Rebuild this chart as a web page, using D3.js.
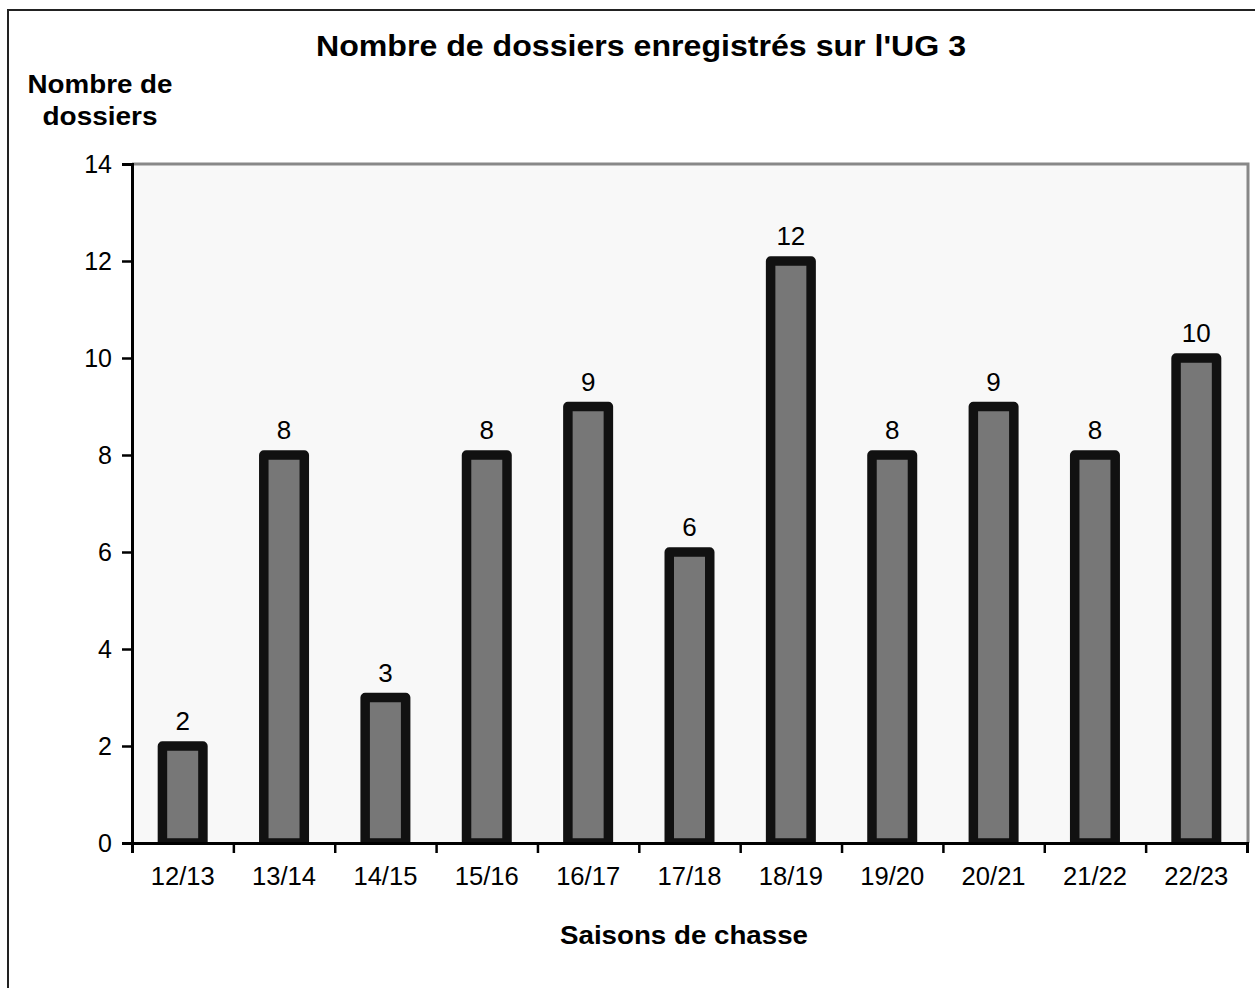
<!DOCTYPE html>
<html>
<head>
<meta charset="utf-8">
<script src="https://cdn.jsdelivr.net/npm/d3@7"></script>
<style>
  body { margin: 0; background: #fff; }
  svg text { font-family: "Liberation Sans", Arial, sans-serif; fill: #000; }
</style>
</head>
<body>
<div id="chart"></div>
<script>
// values
var seasons = ['12/13', '13/14', '14/15', '15/16', '16/17', '17/18', '18/19', '19/20', '20/21', '21/22', '22/23'];
var dossiers = [2, 8, 3, 8, 9, 6, 12, 8, 9, 8, 10];
var yTicks = [0, 2, 4, 6, 8, 10, 12, 14];

var width = 1255, height = 988;
var plot = {left: 132, right: 1248, top: 164, bottom: 843};

var svg = d3.select('#chart').append('svg')
  .attr('width', width)
  .attr('height', height);

// outer chart frame (runs off the right and bottom edges)
svg.append('rect')
  .attr('x', 8).attr('y', 10)
  .attr('width', 1300).attr('height', 1100)
  .attr('fill', '#fff')
  .attr('stroke', '#222')
  .attr('stroke-width', 2);

var x = d3.scaleBand()
  .domain(seasons)
  .range([plot.left, plot.right - 1]);

var xEdges = d3.scaleLinear()
  .domain([0, seasons.length])
  .range([plot.left, plot.right - 1]);

var y = d3.scaleLinear()
  .domain([0, 14])
  .range([plot.bottom, plot.top]);

// plot area
svg.append('rect')
  .attr('x', plot.left).attr('y', plot.top)
  .attr('width', plot.right - plot.left).attr('height', plot.bottom - plot.top)
  .attr('fill', '#f8f8f8');
svg.append('path')
  .attr('d', 'M' + plot.left + ',' + plot.top + 'H' + plot.right + 'V' + plot.bottom)
  .attr('fill', 'none')
  .attr('stroke', '#888')
  .attr('stroke-width', 3);

// bars
var barW = 40.5;
svg.append('clipPath').attr('id', 'clip')
  .append('rect')
  .attr('x', plot.left).attr('y', 0)
  .attr('width', plot.right - plot.left).attr('height', plot.bottom + 1);

svg.append('g').attr('clip-path', 'url(#clip)')
  .selectAll('rect')
  .data(dossiers)
  .enter().append('rect')
  .attr('x', function(d, i) { return x(seasons[i]) + x.bandwidth() / 2 - barW / 2; })
  .attr('y', function(d) { return y(d); })
  .attr('width', barW)
  .attr('height', function(d) { return y(0) - y(d); })
  .attr('fill', '#777')
  .attr('stroke', '#111')
  .attr('stroke-width', 9.5)
  .attr('stroke-linejoin', 'round');

// value labels
svg.append('g')
  .selectAll('text')
  .data(dossiers)
  .enter().append('text')
  .attr('x', function(d, i) { return x(seasons[i]) + x.bandwidth() / 2; })
  .attr('y', function(d) { return y(d) - 16; })
  .attr('text-anchor', 'middle')
  .style('font-size', '26px')
  .text(function(d) { return d; });

// y axis
var yAxis = svg.append('g')
  .attr('transform', 'translate(' + plot.left + ',0)')
  .call(d3.axisLeft(y).tickValues(yTicks).tickSize(10).tickPadding(10));
yAxis.select('.domain').attr('stroke', '#000').attr('stroke-width', 3);
yAxis.selectAll('.tick line').attr('stroke', '#000').attr('stroke-width', 2.5);
yAxis.selectAll('.tick text')
  .attr('fill', '#000')
  .style('font-size', '25px')
  .style('font-family', '"Liberation Sans", Arial, sans-serif');

// x axis: tick marks at category edges, labels at centers
var xTickAxis = svg.append('g')
  .attr('transform', 'translate(0,' + plot.bottom + ')')
  .call(d3.axisBottom(xEdges).ticks(seasons.length).tickSize(10).tickFormat(''));
xTickAxis.select('.domain').attr('stroke', '#000').attr('stroke-width', 3);
xTickAxis.selectAll('.tick line').attr('stroke', '#000').attr('stroke-width', 2.5);

var xAxis = svg.append('g')
  .attr('transform', 'translate(0,' + plot.bottom + ')')
  .call(d3.axisBottom(x).tickSize(0).tickPadding(24));
xAxis.select('.domain').remove();
xAxis.selectAll('.tick text')
  .attr('fill', '#000')
  .attr('textLength', 64)
  .attr('lengthAdjust', 'spacingAndGlyphs')
  .style('font-size', '25px')
  .style('font-family', '"Liberation Sans", Arial, sans-serif');

// titles
function boldText(tx, ty, size, len, str) {
  svg.append('text')
    .attr('x', tx).attr('y', ty)
    .attr('text-anchor', 'middle')
    .attr('textLength', len)
    .attr('lengthAdjust', 'spacingAndGlyphs')
    .style('font-size', size + 'px')
    .style('font-weight', 'bold')
    .text(str);
}

boldText(641, 56, 29, 650, "Nombre de dossiers enregistrés sur l'UG 3");
boldText(100, 93, 25, 145, 'Nombre de');
boldText(100, 125, 25, 115, 'dossiers');
boldText(684, 944, 26, 248, 'Saisons de chasse');
</script>
</body>
</html>
